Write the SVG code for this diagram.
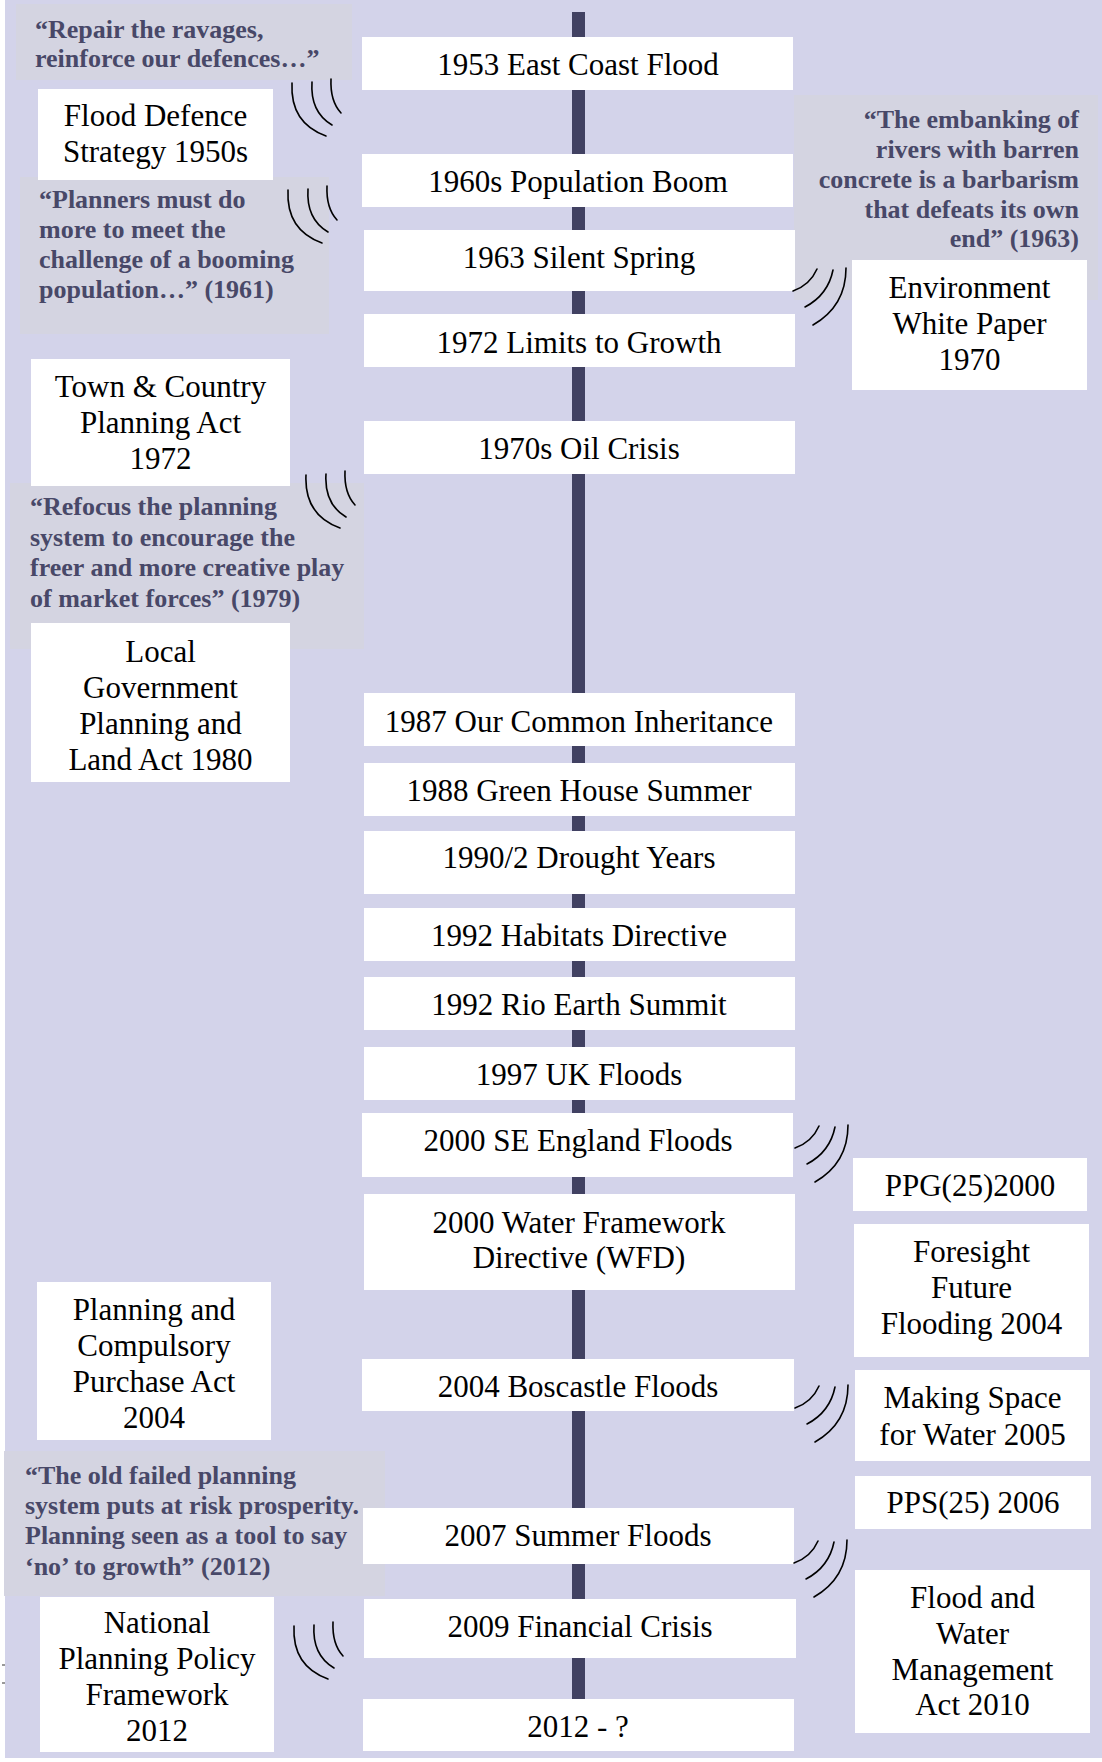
<svg xmlns="http://www.w3.org/2000/svg" xmlns:xlink="http://www.w3.org/1999/xlink" width="1102" height="1762" viewBox="0 0 1102 1762">
<style>
.bg{fill:#D3D3EA}
.box{fill:#FFFFFF}
.qbox{fill:#D4D4E1}
.bar{fill:#414162}
.t{font-family:"Liberation Serif","DejaVu Serif",serif;font-size:31px;fill:#000;text-anchor:middle}
.q{font-family:"Liberation Serif","DejaVu Serif",serif;font-weight:bold;font-size:26px;fill:#484868}
.qr{text-anchor:end}
.arc{fill:none;stroke:#000;stroke-width:1.6;stroke-linecap:round}
</style>
<defs>
<g id="arcL" class="arc">
<path d="M3,4 Q1,44 37,57"/>
<path d="M23,3 Q21,33 43,46"/>
<path d="M42,0 Q41,22 52,34"/>
</g>
<g id="arcR" class="arc">
<path d="M0,23 Q17,17 24,1"/>
<path d="M12,39 Q35,27 40,2"/>
<path d="M20,57 Q53,38 53,0"/>
</g>
</defs>
<rect x="0" y="0" width="1102" height="1762" fill="#FFFFFF"/>
<rect class="bg" x="5" y="0" width="1097" height="1758"/>
<g id="artifacts" stroke="#555" stroke-width="1.2">
<line x1="2" y1="1665" x2="5" y2="1665"/>
<line x1="2" y1="1683" x2="5" y2="1683"/>
</g>
<g id="timeline">
<rect class="bar" x="572" y="12" width="13" height="1690"/>
</g>
<!-- quotes -->
<g id="quote1953"><rect class="qbox" x="16" y="4" width="336" height="76"/>
<text class="q" x="35" y="38">“Repair the ravages,</text>
<text class="q" x="35" y="67">reinforce our defences…”</text></g>
<g id="quote1961"><rect class="qbox" x="20" y="177" width="309" height="157"/>
<text class="q" x="39" y="208">“Planners must do</text>
<text class="q" x="39" y="238">more to meet the</text>
<text class="q" x="39" y="268">challenge of a booming</text>
<text class="q" x="39" y="298">population…” (1961)</text></g>
<g id="quote1979"><rect class="qbox" x="10" y="483" width="354" height="166"/>
<text class="q" x="30" y="515">“Refocus the planning</text>
<text class="q" x="30" y="545.5">system to encourage the</text>
<text class="q" x="30" y="576">freer and more creative play</text>
<text class="q" x="30" y="606.5">of market forces” (1979)</text></g>
<g id="quote2012"><rect class="qbox" x="4" y="1451" width="381" height="145"/>
<text class="q" x="25" y="1484">“The old failed planning</text>
<text class="q" x="25" y="1514">system puts at risk prosperity.</text>
<text class="q" x="25" y="1544">Planning seen as a tool to say</text>
<text class="q" x="25" y="1575">‘no’ to growth” (2012)</text></g>
<g id="quote1963"><rect class="qbox" x="794" y="95" width="304" height="205"/>
<text class="q qr" x="1079" y="128">“The embanking of</text>
<text class="q qr" x="1079" y="158">rivers with barren</text>
<text class="q qr" x="1079" y="188">concrete is a barbarism</text>
<text class="q qr" x="1079" y="218">that defeats its own</text>
<text class="q qr" x="1079" y="247">end” (1963)</text></g>
<!-- left boxes -->
<g id="floodDefence"><rect class="box" x="38" y="89" width="235" height="91"/>
<text class="t" x="155.5" y="126">Flood Defence</text>
<text class="t" x="155.5" y="162">Strategy 1950s</text></g>
<g id="townCountry"><rect class="box" x="31" y="359" width="259" height="127"/>
<text class="t" x="160.5" y="397">Town &amp; Country</text>
<text class="t" x="160.5" y="433">Planning Act</text>
<text class="t" x="160.5" y="469">1972</text></g>
<g id="localGov"><rect class="box" x="31" y="623" width="259" height="159"/>
<text class="t" x="160.5" y="662">Local</text>
<text class="t" x="160.5" y="698">Government</text>
<text class="t" x="160.5" y="734">Planning and</text>
<text class="t" x="160.5" y="770">Land Act 1980</text></g>
<g id="compulsory"><rect class="box" x="37" y="1282" width="234" height="158"/>
<text class="t" x="154" y="1320">Planning and</text>
<text class="t" x="154" y="1356">Compulsory</text>
<text class="t" x="154" y="1392">Purchase Act</text>
<text class="t" x="154" y="1428">2004</text></g>
<g id="nppf"><rect class="box" x="40" y="1597" width="234" height="155"/>
<text class="t" x="157" y="1633">National</text>
<text class="t" x="157" y="1669">Planning Policy</text>
<text class="t" x="157" y="1705">Framework</text>
<text class="t" x="157" y="1741">2012</text></g>
<!-- right boxes -->
<g id="envWhitePaper"><rect class="box" x="852" y="260" width="235" height="130"/>
<text class="t" x="969.5" y="298">Environment</text>
<text class="t" x="969.5" y="334">White Paper</text>
<text class="t" x="969.5" y="370">1970</text></g>
<g id="ppg25"><rect class="box" x="853" y="1158" width="234" height="53"/>
<text class="t" x="970" y="1196">PPG(25)2000</text></g>
<g id="foresight"><rect class="box" x="854" y="1224" width="235" height="133"/>
<text class="t" x="971.5" y="1262">Foresight</text>
<text class="t" x="971.5" y="1298">Future</text>
<text class="t" x="971.5" y="1334">Flooding 2004</text></g>
<g id="makingSpace"><rect class="box" x="855" y="1370" width="235" height="91"/>
<text class="t" x="972.5" y="1408">Making Space</text>
<text class="t" x="972.5" y="1445">for Water 2005</text></g>
<g id="pps25"><rect class="box" x="855" y="1476" width="236" height="53"/>
<text class="t" x="973" y="1513">PPS(25) 2006</text></g>
<g id="fwma"><rect class="box" x="855" y="1570" width="235" height="163"/>
<text class="t" x="972.5" y="1608">Flood and</text>
<text class="t" x="972.5" y="1644">Water</text>
<text class="t" x="972.5" y="1680">Management</text>
<text class="t" x="972.5" y="1715">Act 2010</text></g>
<!-- timeline events -->
<g id="e1953"><rect class="box" x="362" y="37" width="431" height="53"/><text class="t" x="578" y="75">1953 East Coast Flood</text></g>
<g id="e1960s"><rect class="box" x="362" y="154" width="431" height="53"/><text class="t" x="578" y="192">1960s Population Boom</text></g>
<g id="e1963"><rect class="box" x="364" y="230" width="431" height="61"/><text class="t" x="579" y="268">1963 Silent Spring</text></g>
<g id="e1972"><rect class="box" x="364" y="314" width="431" height="53"/><text class="t" x="579" y="353">1972 Limits to Growth</text></g>
<g id="e1970s"><rect class="box" x="364" y="421" width="431" height="53"/><text class="t" x="579" y="459">1970s Oil Crisis</text></g>
<g id="e1987"><rect class="box" x="364" y="693" width="431" height="53"/><text class="t" x="579" y="732">1987 Our Common Inheritance</text></g>
<g id="e1988"><rect class="box" x="364" y="763" width="431" height="53"/><text class="t" x="579" y="801">1988 Green House Summer</text></g>
<g id="e1990"><rect class="box" x="364" y="831" width="431" height="63"/><text class="t" x="579" y="868">1990/2 Drought Years</text></g>
<g id="e1992h"><rect class="box" x="364" y="908" width="431" height="53"/><text class="t" x="579" y="946">1992 Habitats Directive</text></g>
<g id="e1992r"><rect class="box" x="364" y="977" width="431" height="53"/><text class="t" x="579" y="1015">1992 Rio Earth Summit</text></g>
<g id="e1997"><rect class="box" x="364" y="1047" width="431" height="53"/><text class="t" x="579" y="1085">1997 UK Floods</text></g>
<g id="e2000se"><rect class="box" x="362" y="1113" width="431" height="64"/><text class="t" x="578" y="1151">2000 SE England Floods</text></g>
<g id="e2000wfd"><rect class="box" x="364" y="1194" width="431" height="96"/><text class="t" x="579" y="1233">2000 Water Framework</text><text class="t" x="579" y="1268">Directive (WFD)</text></g>
<g id="e2004"><rect class="box" x="362" y="1359" width="432" height="52"/><text class="t" x="578" y="1397">2004 Boscastle Floods</text></g>
<g id="e2007"><rect class="box" x="363" y="1508" width="431" height="56"/><text class="t" x="578" y="1546">2007 Summer Floods</text></g>
<g id="e2009"><rect class="box" x="364" y="1599" width="432" height="59"/><text class="t" x="580" y="1637">2009 Financial Crisis</text></g>
<g id="e2012"><rect class="box" x="363" y="1699" width="431" height="52"/><text class="t" x="578" y="1737">2012 - ?</text></g>
<g id="connectors">
<use xlink:href="#arcL" x="289" y="79"/>
<use xlink:href="#arcL" x="285" y="186"/>
<use xlink:href="#arcL" x="303" y="471"/>
<use xlink:href="#arcL" x="291" y="1622"/>
<use xlink:href="#arcR" x="793" y="268"/>
<use xlink:href="#arcR" x="795" y="1125"/>
<use xlink:href="#arcR" x="795" y="1385"/>
<use xlink:href="#arcR" x="794" y="1540"/>
</g>
</svg>
